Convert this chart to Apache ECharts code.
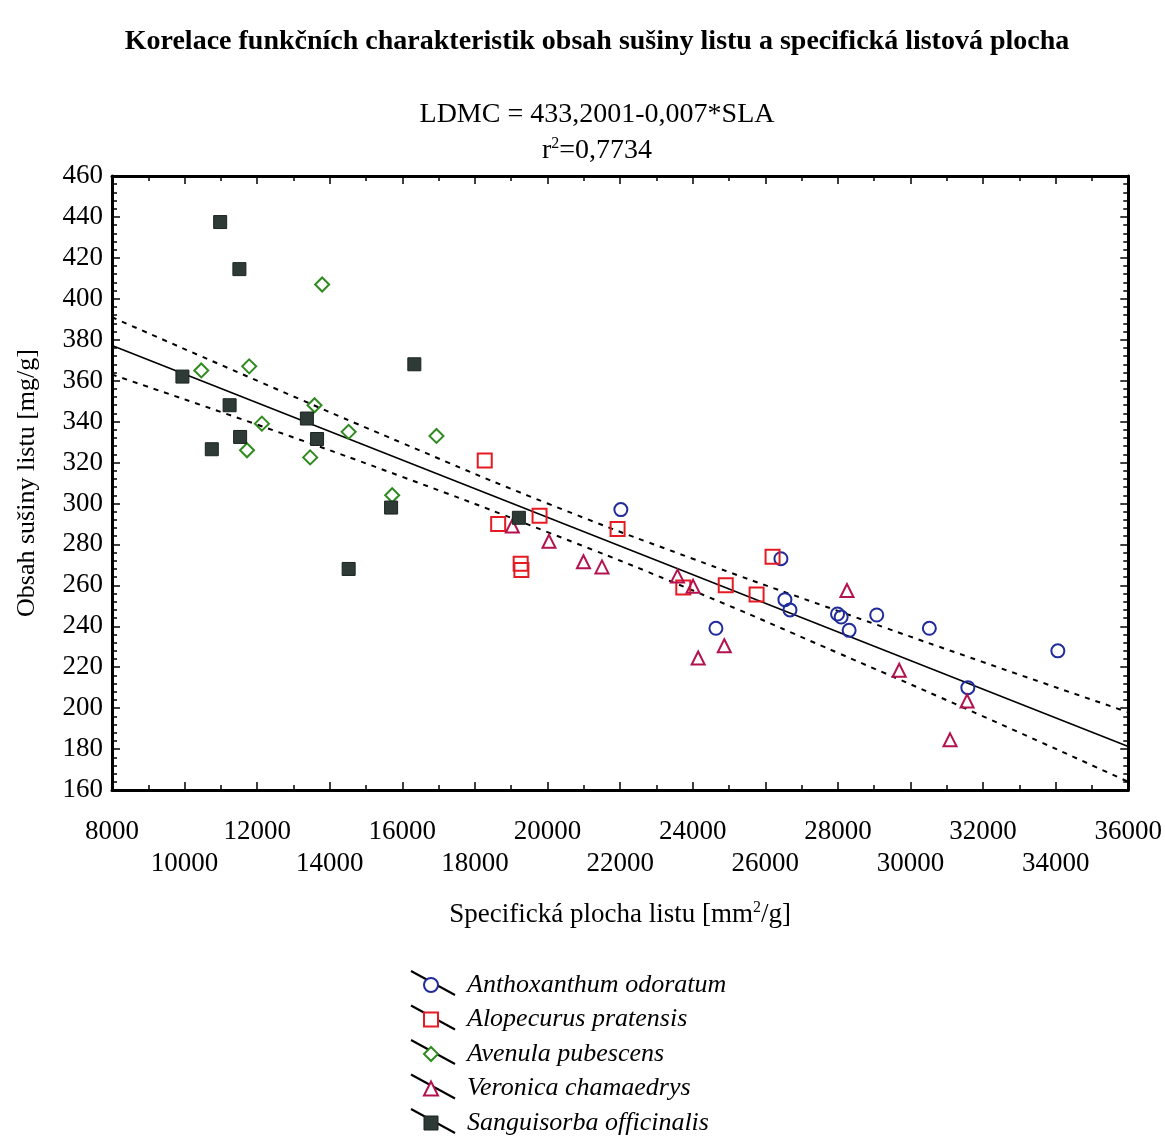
<!DOCTYPE html>
<html>
<head>
<meta charset="utf-8">
<script src="https://cdn.jsdelivr.net/npm/echarts@6/dist/echarts.min.js"></script>
<style>
html,body{margin:0;padding:0;background:#fff;}
#chart{width:1165px;height:1137px;}
</style>
</head>
<body>
<div id="chart"></div>
<script>
// ---- Data (SLA [mm2/g], LDMC [mg/g]) ----
const speciesNames = ['Anthoxanthum odoratum','Alopecurus pratensis','Avenula pubescens','Veronica chamaedrys','Sanguisorba officinalis'];

const anthoxanthum = [
  [22020,297],[24640,239],[26430,273],[26540,253],[26680,248],[27990,246],
  [28090,244.5],[28310,238],[29070,245.5],[30520,239],[31580,210],[34060,228]
];
const alopecurus = [
  [18270,321],[18640,290],[19780,294],[19260,270.5],[19280,267.5],[21930,287.5],
  [23740,259],[24910,260],[25760,255.5],[26200,274]
];
const avenula = [
  [13790,407],[10460,365],[11780,367],[13580,348],[12130,339],[14520,335],
  [16940,333],[11720,326],[13460,322.5],[15720,304]
];
const veronica = [
  [19030,289],[20040,281.5],[20990,271.5],[21500,269],[23580,264.5],[24010,259.5],
  [24870,230.5],[24150,224.5],[28250,257.5],[29690,218.5],[31560,203.5],[31090,184.5]
];
const sanguisorba = [
  [10980,437.5],[11510,414.5],[9940,362],[11240,348],[13370,341.5],[13650,331.5],
  [11530,332.5],[10750,326.5],[16330,368],[15690,298],[14520,268],[19210,293]
];

// regression LDMC = 433.2001 - 0.007*SLA
const regIntercept = 433.2001;
const regSlope = -0.007;
const regX = [8000, 36000];
// confidence band
const bandX =     [8000, 12000, 16000, 20000, 24000, 28000, 32000, 36000];
const bandUpper = [391, 360, 329.5, 300, 273, 247.5, 222.5, 198];
const bandLower = [363, 338.5, 313, 286, 257.5, 227, 196, 164];

const xTicksMin = 8000, xTicksMax = 36000, xTickStep = 2000;
const yTicksMin = 160, yTicksMax = 460, yTickStep = 20;

const serif = '"Liberation Serif","Times New Roman",serif';
const colors = ['#1f2c9a','#e51b23','#2f8a1f','#b3124e','#2d3a35'];
const symbols = ['circle','rect','diamond','triangle','rect'];
const sizes = [13,14,14,13,13];
const dataSets = [anthoxanthum, alopecurus, avenula, veronica, sanguisorba];

const chart = echarts.init(document.getElementById('chart'));

const scatterSeries = dataSets.map((d, i) => ({
  name: speciesNames[i],
  type: 'scatter',
  data: d,
  symbol: symbols[i],
  symbolSize: sizes[i],
  z: 5,
  itemStyle: i === 4
    ? {color: colors[i], borderColor: '#1b2420', borderWidth: 1, opacity: 1}
    : {color: 'rgba(0,0,0,0)', borderColor: colors[i], borderWidth: 2, opacity: 1}
}));

const lineSeries = [
  {
    type: 'line', name: 'fit', data: regX.map(x => [x, regIntercept + regSlope * x]),
    symbol: 'none', lineStyle: {color: '#000', width: 1.6}, z: 3, silent: true
  },
  {
    type: 'line', name: 'upper', data: bandX.map((x, i) => [x, bandUpper[i]]), smooth: true,
    symbol: 'none', lineStyle: {color: '#000', width: 2, type: [5, 6]}, z: 3, silent: true
  },
  {
    type: 'line', name: 'lower', data: bandX.map((x, i) => [x, bandLower[i]]), smooth: true,
    symbol: 'none', lineStyle: {color: '#000', width: 2, type: [5, 6]}, z: 3, silent: true
  }
];

const legendRowStart = 984, legendRowStep = 34.5;
const legendLines = speciesNames.map((n, i) => ({
  type: 'line', z: 1,
  shape: {x1: 411, y1: legendRowStart + legendRowStep * i - 13, x2: 455, y2: legendRowStart + legendRowStep * i + 11},
  style: {stroke: '#000', lineWidth: 2}
}));

const grid = {left: 112, top: 176, right: 35, bottom: 347};

const option = {
  backgroundColor: '#fff',
  animation: false,
  title: [
    {
      text: 'Korelace funkčních charakteristik obsah sušiny listu a specifická listová plocha',
      left: 592, top: 23, textAlign: 'center',
      textStyle: {fontFamily: serif, fontWeight: 'bold', fontSize: 28, color: '#000'}
    },
    {
      text: '{a|LDMC = 433,2001-0,007*SLA}\n{a|r}{s|2}{a|=0,7734}',
      left: 592, top: 92, textAlign: 'center',
      textStyle: {
        fontFamily: serif, fontWeight: 'normal', color: '#000',
        rich: {
          a: {fontFamily: serif, fontSize: 28, lineHeight: 36, color: '#000'},
          s: {fontFamily: serif, fontSize: 16, lineHeight: 36, padding: [0, 0, 14, 0], color: '#000'}
        }
      }
    }
  ],
  legend: {
    data: speciesNames.map((n, i) => ({
      name: n,
      icon: symbols[i],
      itemStyle: i === 4 ? {color: colors[4], borderColor: '#1b2420', borderWidth: 1}
                         : {color: '#fff', borderColor: colors[i], borderWidth: 2}
    })),
    orient: 'vertical',
    left: 423, top: 972,
    padding: 0,
    itemWidth: 14, itemHeight: 14,
    itemGap: 8.5,
    selectedMode: false,
    textStyle: {fontFamily: serif, fontStyle: 'italic', fontSize: 26, color: '#000', padding: [0, 0, 0, 24]}
  },
  graphic: legendLines,
  grid: grid,
  xAxis: [
    {
      type: 'value', min: xTicksMin, max: xTicksMax, interval: xTickStep,
      position: 'bottom',
      name: '{a|Specifická plocha listu [mm}{s|2}{a|/g]}',
      nameLocation: 'middle', nameGap: 110,
      nameTextStyle: {
        rich: {
          a: {fontFamily: serif, fontSize: 27, lineHeight: 30, color: '#000'},
          s: {fontFamily: serif, fontSize: 16, lineHeight: 30, padding: [0, 0, 14, 0], color: '#000'}
        }
      },
      axisLine: {show: true, onZero: false, lineStyle: {color: '#000', width: 3}},
      axisTick: {show: true, inside: true, length: 8, lineStyle: {color: '#000', width: 1.5}},
      minorTick: {show: true, splitNumber: 2, length: 5, lineStyle: {color: '#000', width: 1.5}},
      splitLine: {show: false},
      axisLabel: {
        fontFamily: serif, fontSize: 27, color: '#000', margin: 26, lineHeight: 32,
        formatter: v => (Math.round((v - xTicksMin) / xTickStep) % 2 === 1 ? '\n' : '') + v
      }
    },
    {
      type: 'value', min: xTicksMin, max: xTicksMax, interval: xTickStep,
      position: 'top',
      axisLine: {show: true, onZero: false, lineStyle: {color: '#000', width: 3}},
      axisTick: {show: true, inside: true, length: 8, lineStyle: {color: '#000', width: 1.5}},
      minorTick: {show: true, splitNumber: 2, length: 5, lineStyle: {color: '#000', width: 1.5}},
      splitLine: {show: false},
      axisLabel: {show: false}
    }
  ],
  yAxis: [
    {
      type: 'value', min: yTicksMin, max: yTicksMax, interval: yTickStep,
      position: 'left',
      name: 'Obsah sušiny listu [mg/g]',
      nameLocation: 'middle', nameGap: 72, nameRotate: 90,
      nameTextStyle: {fontFamily: serif, fontSize: 26, color: '#000'},
      axisLine: {show: true, onZero: false, lineStyle: {color: '#000', width: 3}},
      axisTick: {show: true, inside: true, length: 8, lineStyle: {color: '#000', width: 1.5}},
      minorTick: {show: true, splitNumber: 5, length: 5, lineStyle: {color: '#000', width: 1.5}},
      splitLine: {show: false},
      axisLabel: {fontFamily: serif, fontSize: 27, color: '#000', margin: 9}
    },
    {
      type: 'value', min: yTicksMin, max: yTicksMax, interval: yTickStep,
      position: 'right',
      axisLine: {show: true, onZero: false, lineStyle: {color: '#000', width: 3}},
      axisTick: {show: true, inside: true, length: 8, lineStyle: {color: '#000', width: 1.5}},
      minorTick: {show: true, splitNumber: 5, length: 5, lineStyle: {color: '#000', width: 1.5}},
      splitLine: {show: false},
      axisLabel: {show: false}
    }
  ],
  series: [...scatterSeries, ...lineSeries]
};

chart.setOption(option);
</script>
</body>
</html>
